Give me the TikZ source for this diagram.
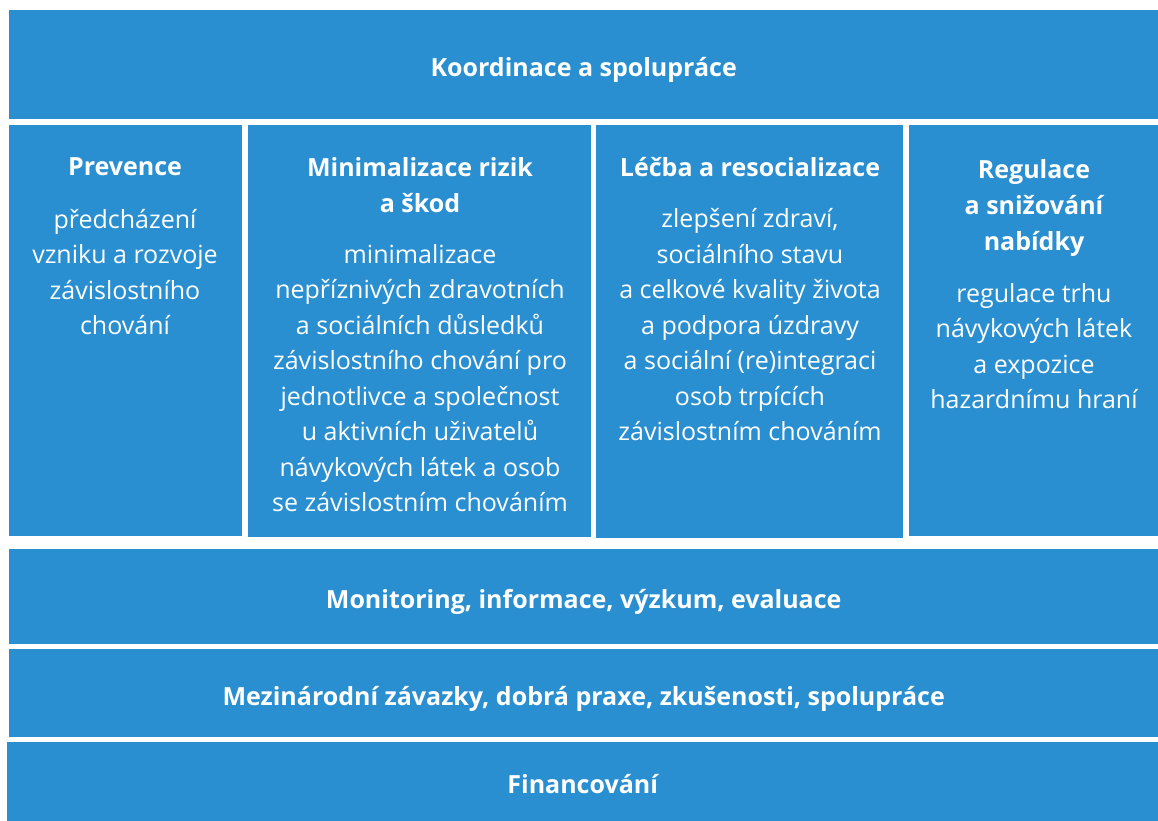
\documentclass[tikz,border=0pt]{standalone}
\usepackage{fontspec}
\setmainfont{Open Sans}
\usepackage{tikz}
\usetikzlibrary{positioning}
\definecolor{pillarblue}{RGB}{42,143,208}
\tikzset{
	band/.style={fill=pillarblue, anchor=north west, inner sep=0pt,
		text height=24pt, text depth=0pt,
		text=white, font=\fontsize{25}{34}\selectfont\bfseries},
	pillar/.style={fill=pillarblue, anchor=north west, inner sep=0pt},
	head/.style={text=white, align=center, inner sep=0pt,
		font=\fontsize{25}{36}\selectfont\bfseries},
	body/.style={text=white, align=center, inner sep=0pt,
		font=\fontsize{25}{35.5}\selectfont},
}

\begin{document}
\begin{tikzpicture}[x=1pt, y=-1pt]
	\useasboundingbox (0,0) rectangle (1158,821);
	% horizontal bands
	\node[band, minimum width=1149pt, minimum height=109pt] (koord) at (9,10) {Koordinace a spolupráce};
	\node[band, minimum width=1149pt, minimum height=95pt] (monit) at (9,549) {Monitoring, informace, výzkum, evaluace};
	\node[band, minimum width=1149pt, minimum height=88pt] (mezin) at (9,649) {Mezinárodní závazky, dobrá praxe, zkušenosti, spolupráce};
	\node[band, minimum width=1151pt, minimum height=79pt] (financ) at (7,742) {Financování};
	% pillars
	\node[pillar, minimum width=233pt, minimum height=411pt] (prev) at (9,125) {};
	\node[pillar, minimum width=343pt, minimum height=412pt] (minim) at (248,125) {};
	\node[pillar, minimum width=307pt, minimum height=413pt] (lecba) at (596,125) {};
	\node[pillar, minimum width=249pt, minimum height=411pt] (regul) at (909,125) {};
	% Prevence
	\node[head] (prevhead) at (125,167) {Prevence};
	\node[body] (prevbody) at (125,272) {předcházení\\vzniku a rozvoje\\závislostního\\chování};
	% Minimalizace
	\node[head] (minimhead) at (420,185) {Minimalizace rizik\\a škod};
	\node[body] (minimbody) at (420,378) {minimalizace\\nepříznivých zdravotních\\a sociálních důsledků\\závislostního chování pro\\jednotlivce a společnost\\u aktivních uživatelů\\návykových látek a osob\\se závislostním chováním};
	% Lecba
	\node[head] (lecbahead) at (750,167) {Léčba a resocializace};
	\node[body] (lecbabody) at (750,325) {zlepšení zdraví,\\sociálního stavu\\a celkové kvality života\\a podpora úzdravy\\a sociální (re)integraci\\osob trpících\\závislostním chováním};
	% Regulace
	\node[head] (regulhead) at (1034,208) {Regulace\\a snižování\\nabídky};
	\node[body] (regulbody) at (1034,346) {regulace trhu\\návykových látek\\a expozice\\hazardnímu hraní};
\end{tikzpicture}
\end{document}
